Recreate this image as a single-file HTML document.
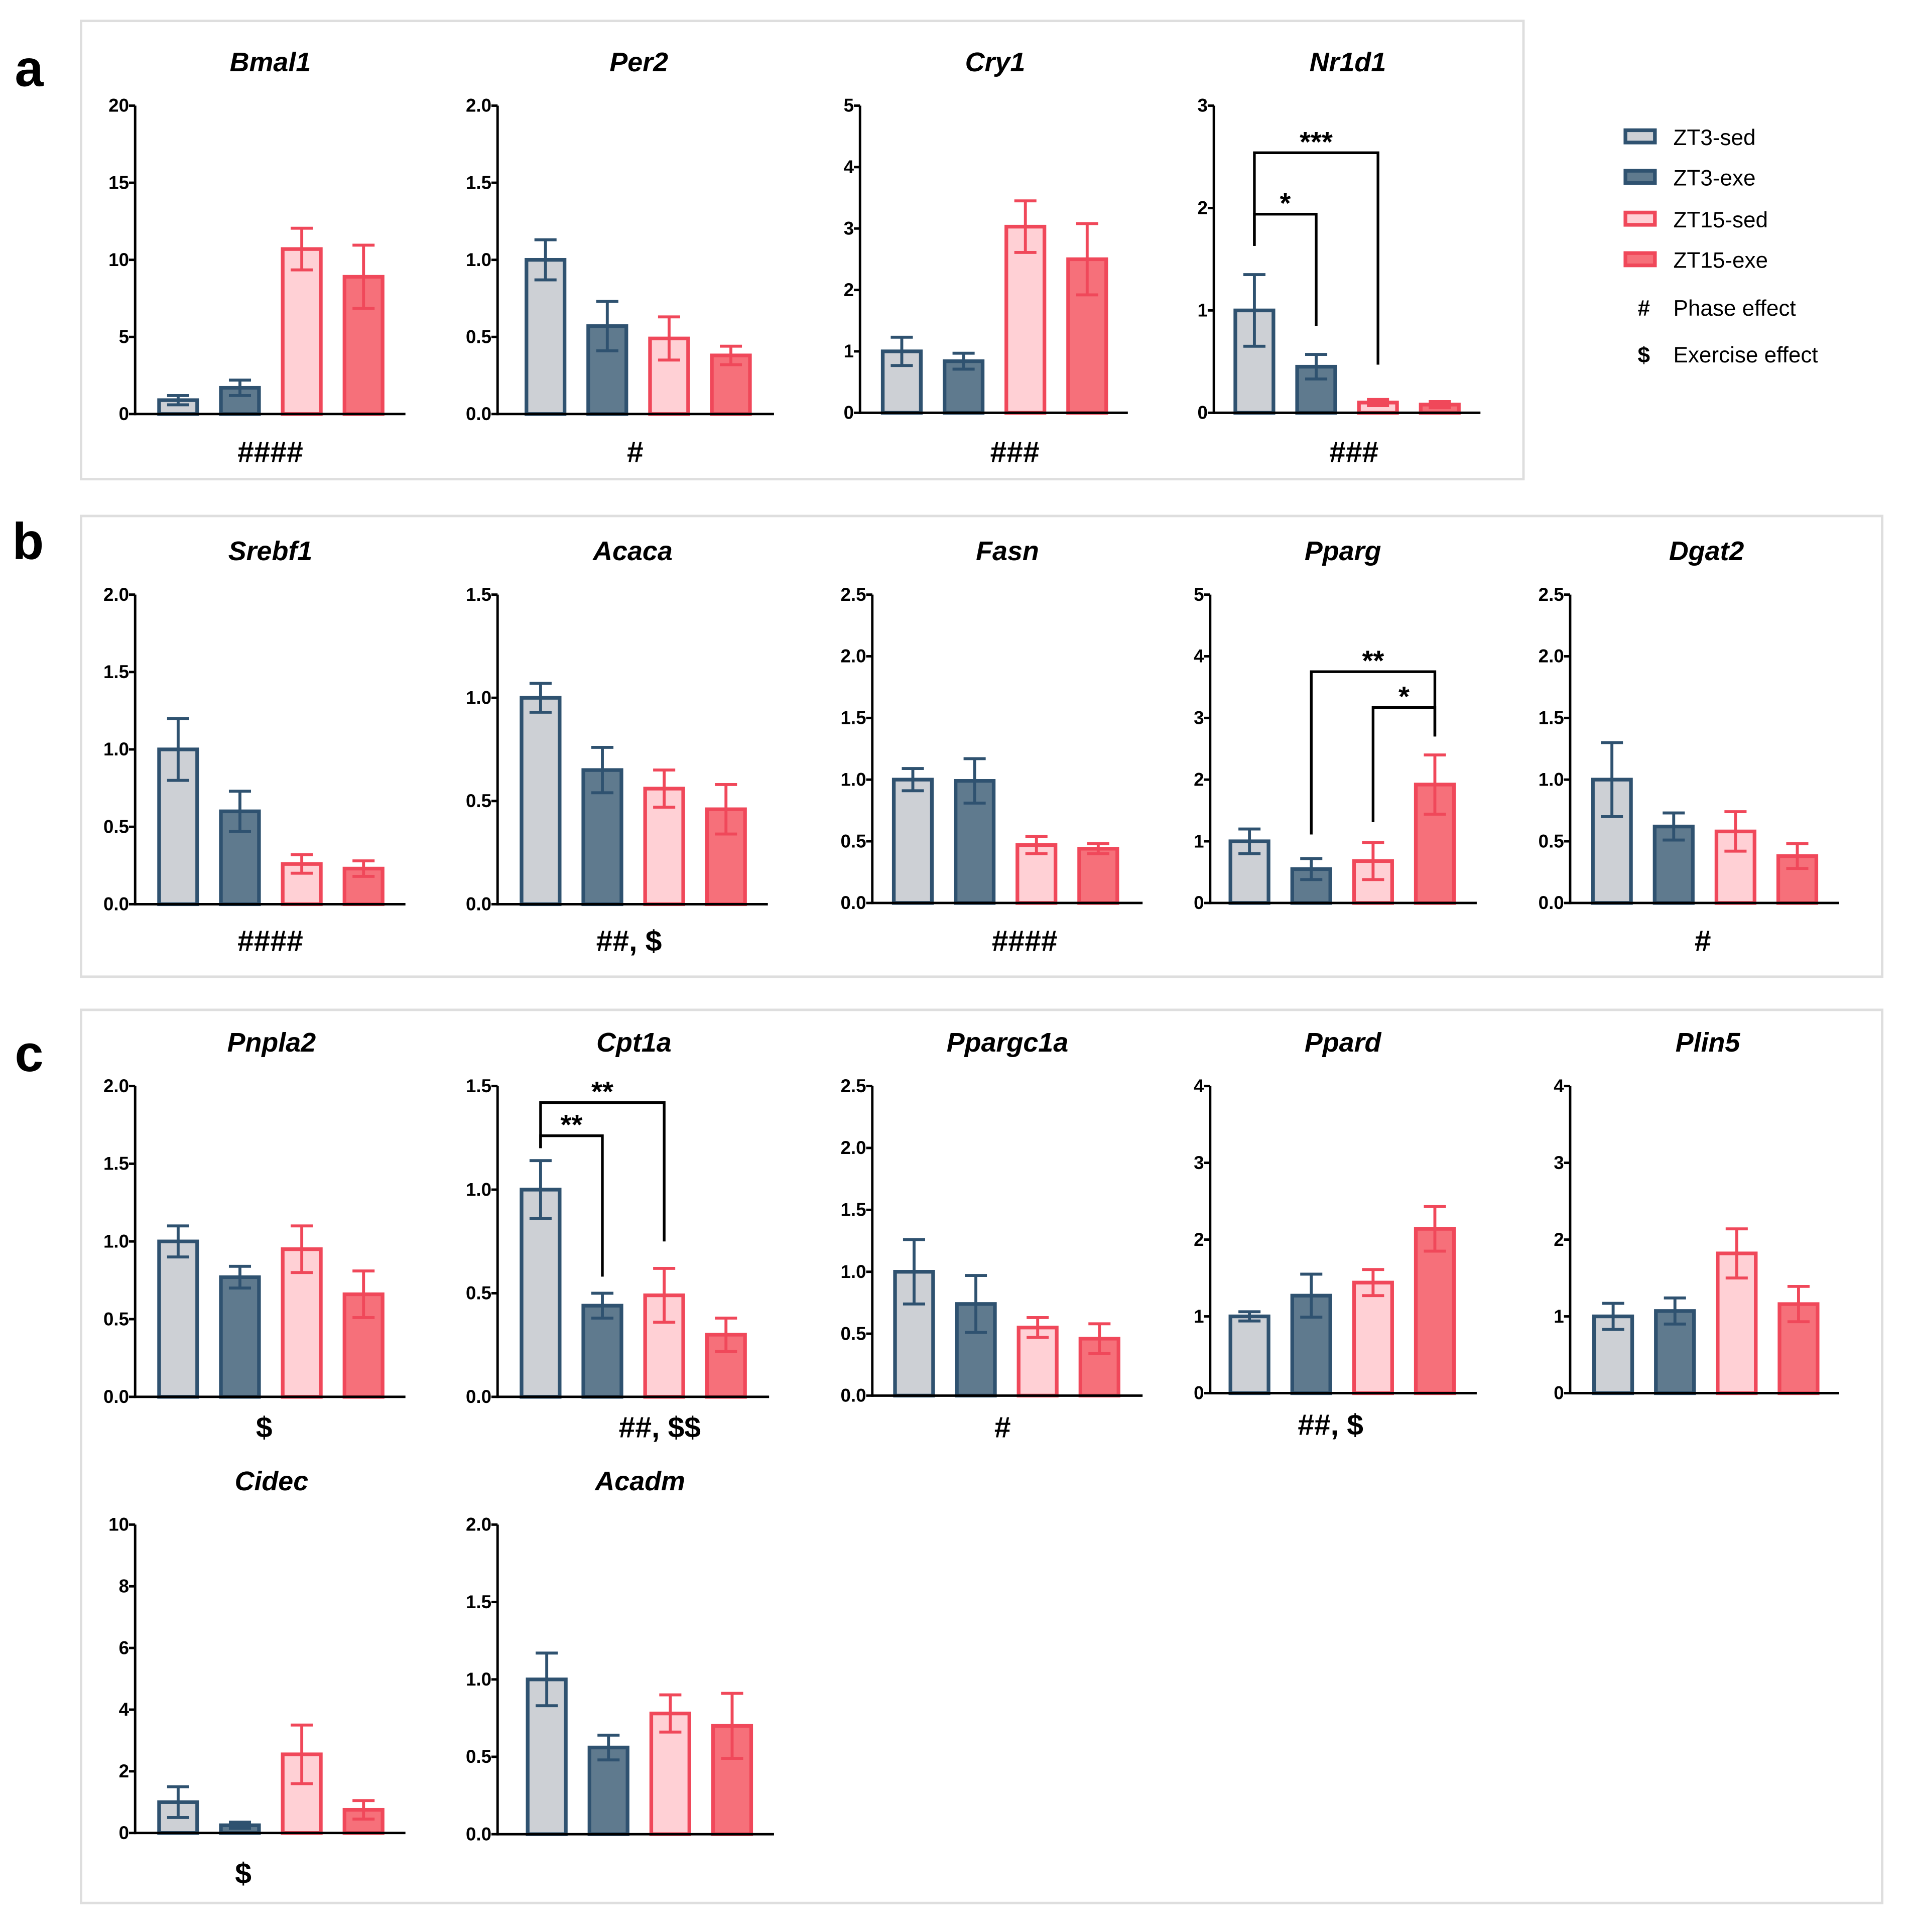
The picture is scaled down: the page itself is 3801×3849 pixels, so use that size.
<!DOCTYPE html>
<html><head><meta charset="utf-8"><style>
html,body{margin:0;padding:0;background:#fff}
svg{display:block}
text{font-family:"Liberation Sans",sans-serif;fill:#000}
</style></head><body>
<svg id="fig" width="3801" height="3849" viewBox="0 0 1553 1572.6" xmlns="http://www.w3.org/2000/svg">
<rect x="66" y="17" width="1174" height="373" fill="none" stroke="#dedede" stroke-width="2"/>
<rect x="66" y="420" width="1466" height="375" fill="none" stroke="#dedede" stroke-width="2"/>
<rect x="66" y="822" width="1466" height="727" fill="none" stroke="#dedede" stroke-width="2"/>
<text x="12" y="70" font-size="42" font-weight="bold">a</text>
<text x="10" y="455" font-size="42" font-weight="bold">b</text>
<text x="12" y="872" font-size="42" font-weight="bold">c</text>
<g font-size="18">
<rect x="1323" y="106" width="24" height="10" fill="#cdd0d5" stroke="#2f5270" stroke-width="3"/>
<text x="1362" y="118" fill="#333">ZT3-sed</text>
<rect x="1323" y="139" width="24" height="10" fill="#5f7a8e" stroke="#2f5270" stroke-width="3"/>
<text x="1362" y="151" fill="#333">ZT3-exe</text>
<rect x="1323" y="173" width="24" height="10" fill="#ffd0d5" stroke="#f0485a" stroke-width="3"/>
<text x="1362" y="185" fill="#333">ZT15-sed</text>
<rect x="1323" y="206" width="24" height="10" fill="#f6707a" stroke="#f0485a" stroke-width="3"/>
<text x="1362" y="218" fill="#333">ZT15-exe</text>
<text x="1333" y="257" font-weight="bold">#</text>
<text x="1362" y="257" fill="#333">Phase effect</text>
<text x="1333" y="295" font-weight="bold">$</text>
<text x="1362" y="295" fill="#333">Exercise effect</text>
</g>
</svg>
<script>
const genes=["Bmal1","Per2","Cry1","Nr1d1","Srebf1","Acaca","Fasn","Pparg","Dgat2","Pnpla2","Cpt1a","Ppargc1a","Ppard","Plin5","Cidec","Acadm"];
const yMax=[20,2,5,3,2,1.5,2.5,5,2.5,2,1.5,2.5,4,4,10,2];
const tickLabels=[["0","5","10","15","20"],["0.0","0.5","1.0","1.5","2.0"],["0","1","2","3","4","5"],["0","1","2","3"],["0.0","0.5","1.0","1.5","2.0"],["0.0","0.5","1.0","1.5"],["0.0","0.5","1.0","1.5","2.0","2.5"],["0","1","2","3","4","5"],["0.0","0.5","1.0","1.5","2.0","2.5"],["0.0","0.5","1.0","1.5","2.0"],["0.0","0.5","1.0","1.5"],["0.0","0.5","1.0","1.5","2.0","2.5"],["0","1","2","3","4"],["0","1","2","3","4"],["0","2","4","6","8","10"],["0.0","0.5","1.0","1.5","2.0"]];
const means=[[0.9,1.7,10.7,8.9],[1.0,0.57,0.49,0.38],[1.0,0.84,3.03,2.5],[1.0,0.45,0.1,0.08],[1.0,0.6,0.26,0.23],[1.0,0.65,0.56,0.46],[1.0,0.99,0.47,0.44],[1.0,0.55,0.68,1.92],[1.0,0.62,0.58,0.38],[1.0,0.77,0.95,0.66],[1.0,0.44,0.49,0.3],[1.0,0.74,0.55,0.46],[1.0,1.27,1.44,2.14],[1.0,1.07,1.82,1.16],[1.0,0.25,2.55,0.75],[1.0,0.56,0.78,0.7]];
const errors=[[0.3,0.5,1.35,2.05],[0.13,0.16,0.14,0.06],[0.23,0.13,0.42,0.58],[0.35,0.12,0.03,0.03],[0.2,0.13,0.06,0.05],[0.07,0.11,0.09,0.12],[0.09,0.18,0.07,0.04],[0.2,0.17,0.3,0.48],[0.3,0.11,0.16,0.1],[0.1,0.07,0.15,0.15],[0.14,0.06,0.13,0.08],[0.26,0.23,0.08,0.12],[0.06,0.28,0.17,0.29],[0.17,0.17,0.32,0.23],[0.5,0.1,0.95,0.3],[0.17,0.08,0.12,0.21]];
const stats=["####","#","###","###","####","##,  $","####","","#","$","##,  $$","#","##,  $","","$",""];
// brackets: [geneIndex, leftBar, rightBar, topY, leftEndY, rightEndY, label] (data units)
const brackets=[[3,0,1,1.94,1.63,0.85,"*"],[3,0,2,2.54,1.63,0.47,"***"],[7,1,3,3.75,1.11,2.7,"**"],[7,2,3,3.17,1.31,2.7,"*"],[10,0,2,1.42,1.2,0.75,"**"],[10,0,1,1.26,1.2,0.58,"**"]];

const L=[
 {ax:110,end:330,top:86,bot:337,bx:145,tx:220,ty:50,sx:220,sy:368},
 {ax:405,end:630,top:86,bot:337,bx:444,tx:520,ty:50,sx:517,sy:368},
 {ax:700,end:918,top:86,bot:336,bx:734,tx:810,ty:50,sx:826,sy:368},
 {ax:988,end:1205,top:86,bot:336,bx:1021,tx:1097,ty:50,sx:1102,sy:368},
 {ax:110,end:330,top:484,bot:736,bx:145,tx:220,ty:448,sx:220,sy:766},
 {ax:405,end:625,top:484,bot:736,bx:440,tx:515,ty:448,sx:512,sy:766},
 {ax:710,end:930,top:484,bot:735,bx:743,tx:820,ty:448,sx:834,sy:766},
 {ax:985,end:1202,top:484,bot:735,bx:1017,tx:1093,ty:448,sx:1117,sy:766},
 {ax:1278,end:1497,top:484,bot:735,bx:1312,tx:1389,ty:448,sx:1386,sy:766},
 {ax:110,end:330,top:884,bot:1137,bx:145,tx:221,ty:848,sx:215,sy:1162},
 {ax:405,end:626,top:884,bot:1137,bx:440,tx:516,ty:848,sx:537,sy:1162},
 {ax:710,end:930,top:884,bot:1136,bx:744,tx:820,ty:848,sx:816,sy:1162},
 {ax:985,end:1202,top:884,bot:1134,bx:1017,tx:1093,ty:848,sx:1083,sy:1160},
 {ax:1278,end:1497,top:884,bot:1134,bx:1313,tx:1390,ty:848,sx:1390,sy:1162},
 {ax:110,end:330,top:1241,bot:1492,bx:145,tx:221,ty:1205,sx:198,sy:1525},
 {ax:405,end:630,top:1241,bot:1493,bx:445,tx:521,ty:1205,sx:521,sy:1525}];
const fills=["#cdd0d5","#5f7a8e","#ffd0d5","#f6707a"];
const strokes=["#2f5270","#2f5270","#f0485a","#f0485a"];
const NS="http://www.w3.org/2000/svg";
const svg=document.getElementById("fig");
function mk(tag,attrs,parent){const e=document.createElementNS(NS,tag);for(const k in attrs)e.setAttribute(k,attrs[k]);(parent||svg).appendChild(e);return e;}
function yScale(i,v){const l=L[i];return l.bot-(v/yMax[i])*(l.bot-l.top);}
function xBar(i,j){return L[i].bx+j*50.3;}
genes.forEach((g,i)=>{
 const l=L[i];
 const grp=mk("g",{});
 
 
 const t=mk("text",{x:l.tx,y:l.ty+8,"text-anchor":"middle","font-size":22,"font-weight":"bold","font-style":"italic"},grp);
 t.textContent=g;
 
 
 means[i].forEach((m,j)=>{
  const x=xBar(i,j),y=yScale(i,m),w=31;
  const b=mk("rect",{x:x-w/2,y:y,width:w,height:l.bot-y,fill:fills[j],stroke:strokes[j],"stroke-width":3},grp);
  
  
  const e=errors[i][j],yh=yScale(i,m+e),yl=yScale(i,Math.max(0,m-e));
  const eb=mk("path",{d:`M${x},${yh}V${yl}M${x-9},${yh}H${x+9}M${x-9},${yl}H${x+9}`,stroke:strokes[j],"stroke-width":2.4,fill:"none"},grp);
  
  
 });
 const ya=mk("line",{x1:l.ax,y1:l.top,x2:l.ax,y2:l.bot+1,stroke:"#000","stroke-width":2},grp);
 
 
 const xa=mk("line",{x1:l.ax,y1:l.bot,x2:l.end,y2:l.bot,stroke:"#000","stroke-width":2},grp);
 
 
 const n=tickLabels[i].length;
 tickLabels[i].forEach((lab,k)=>{
  const y=yScale(i,yMax[i]*k/(n-1));
  mk("line",{x1:l.ax-5,y1:y,x2:l.ax,y2:y,stroke:"#000","stroke-width":2},grp);
  const tt=mk("text",{x:l.ax-5,y:y+5,"text-anchor":"end","font-size":15,"font-weight":"bold"},grp);
  tt.textContent=lab;
  
  
 });
 if(stats[i]){
  const s=mk("text",{x:l.sx,y:l.sy+8,"text-anchor":"middle","font-size":24,"font-weight":"bold","xml:space":"preserve"},grp);
  s.textContent=stats[i];
  
  
 }
});
brackets.forEach(b=>{
 const [i,a,c,top,le,re,lab]=b;
 const x1=xBar(i,a),x2=xBar(i,c),yt=yScale(i,top);
 const p=mk("path",{d:`M${x1},${yScale(i,le)}V${yt}H${x2}V${yScale(i,re)}`,fill:"none",stroke:"#000","stroke-width":2.2});
 
 
 const t=mk("text",{x:(x1+x2)/2,y:yt-1,"text-anchor":"middle","font-size":23,"font-weight":"bold"});
 t.textContent=lab;
 
 
});
</script>
</body></html>
